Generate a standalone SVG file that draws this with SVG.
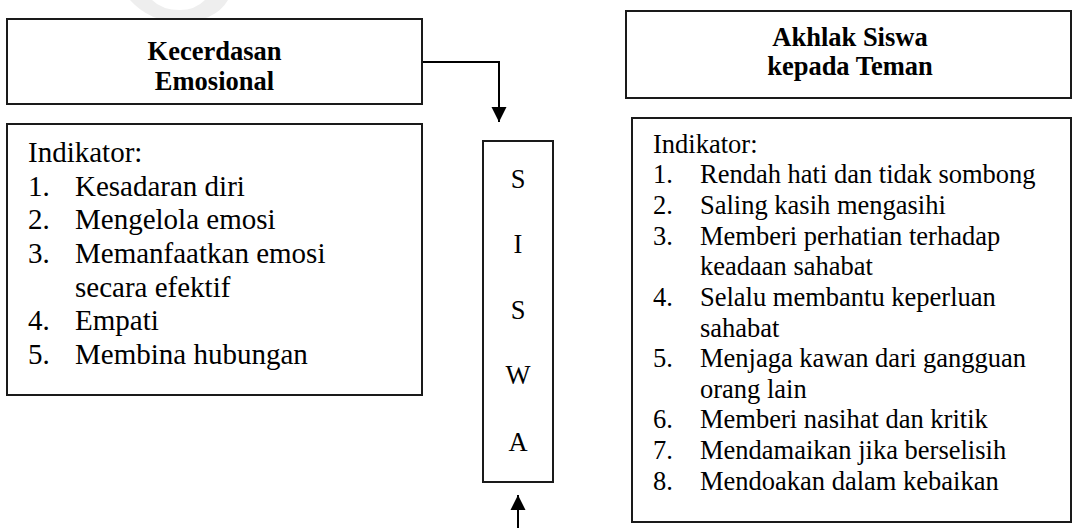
<svg xmlns="http://www.w3.org/2000/svg" width="1073" height="528" viewBox="0 0 1073 528">
<style>
.box{fill:#fff;stroke:#1a1a1a;stroke-width:2}
.hd{font-family:"Liberation Serif","Times New Roman",serif;font-weight:bold;font-size:26.5px;fill:#000;text-anchor:middle}
.tl{font-family:"Liberation Serif","Times New Roman",serif;font-size:29px;fill:#000}
.tr{font-family:"Liberation Serif","Times New Roman",serif;font-size:26.5px;fill:#000}
.sw{font-family:"Liberation Serif","Times New Roman",serif;font-size:26.5px;fill:#000;text-anchor:middle}
.con{fill:none;stroke:#000;stroke-width:2}
</style>
<defs>
<marker id="ah" markerUnits="userSpaceOnUse" markerWidth="16" markerHeight="16" viewBox="0 0 16 16" refX="15" refY="8" orient="auto">
<path d="M0,0.5 L15,8 L0,15.5 Z" fill="#000"/>
</marker>
</defs>
<rect width="1073" height="528" fill="#fff"/>
<path d="M130,0 Q150,22 180,22 Q215,22 228,0 L205,0 Q195,10 180,10 Q162,10 152,0 Z" fill="#eeeeee"/>
<g id="connectors">
<path class="con" d="M422,62 H499 V122" marker-end="url(#ah)"/>
<path class="con" d="M518,528 V495" marker-end="url(#ah)"/>
</g>
<g id="kecerdasan">
<rect class="box" x="7" y="19" width="415" height="85"/>
<text class="hd" x="214.5" y="60">Kecerdasan</text>
<text class="hd" x="214.5" y="90">Emosional</text>
</g>
<g id="indikator-kecerdasan">
<rect class="box" x="7" y="124" width="415" height="271"/>
<text class="tl" x="28" y="162">Indikator:</text>
<text class="tl" x="28" y="196">1.</text><text class="tl" x="75" y="196">Kesadaran diri</text>
<text class="tl" x="28" y="229">2.</text><text class="tl" x="75" y="229">Mengelola emosi</text>
<text class="tl" x="28" y="263">3.</text><text class="tl" x="75" y="263">Memanfaatkan emosi</text>
<text class="tl" x="75" y="297">secara efektif</text>
<text class="tl" x="28" y="330">4.</text><text class="tl" x="75" y="330">Empati</text>
<text class="tl" x="28" y="364">5.</text><text class="tl" x="75" y="364">Membina hubungan</text>
</g>
<g id="siswa">
<rect class="box" x="483" y="141" width="70" height="341"/>
<text class="sw" x="518" y="188">S</text>
<text class="sw" x="518" y="253">I</text>
<text class="sw" x="518" y="319">S</text>
<text class="sw" x="518" y="384">W</text>
<text class="sw" x="518" y="451">A</text>
</g>
<g id="akhlak">
<rect class="box" x="626" y="11" width="445" height="87"/>
<text class="hd" x="850" y="46">Akhlak Siswa</text>
<text class="hd" x="850" y="75">kepada Teman</text>
</g>
<g id="indikator-akhlak">
<rect class="box" x="632" y="118" width="439" height="404"/>
<text class="tr" x="653" y="153">Indikator:</text>
<text class="tr" x="653" y="183">1.</text><text class="tr" x="700" y="183">Rendah hati dan tidak sombong</text>
<text class="tr" x="653" y="214">2.</text><text class="tr" x="700" y="214">Saling kasih mengasihi</text>
<text class="tr" x="653" y="245">3.</text><text class="tr" x="700" y="245">Memberi perhatian terhadap</text>
<text class="tr" x="700" y="275">keadaan sahabat</text>
<text class="tr" x="653" y="306">4.</text><text class="tr" x="700" y="306">Selalu membantu keperluan</text>
<text class="tr" x="700" y="337">sahabat</text>
<text class="tr" x="653" y="367">5.</text><text class="tr" x="700" y="367">Menjaga kawan dari gangguan</text>
<text class="tr" x="700" y="398">orang lain</text>
<text class="tr" x="653" y="428">6.</text><text class="tr" x="700" y="428">Memberi nasihat dan kritik</text>
<text class="tr" x="653" y="459">7.</text><text class="tr" x="700" y="459">Mendamaikan jika berselisih</text>
<text class="tr" x="653" y="490">8.</text><text class="tr" x="700" y="490">Mendoakan dalam kebaikan</text>
</g>
</svg>
